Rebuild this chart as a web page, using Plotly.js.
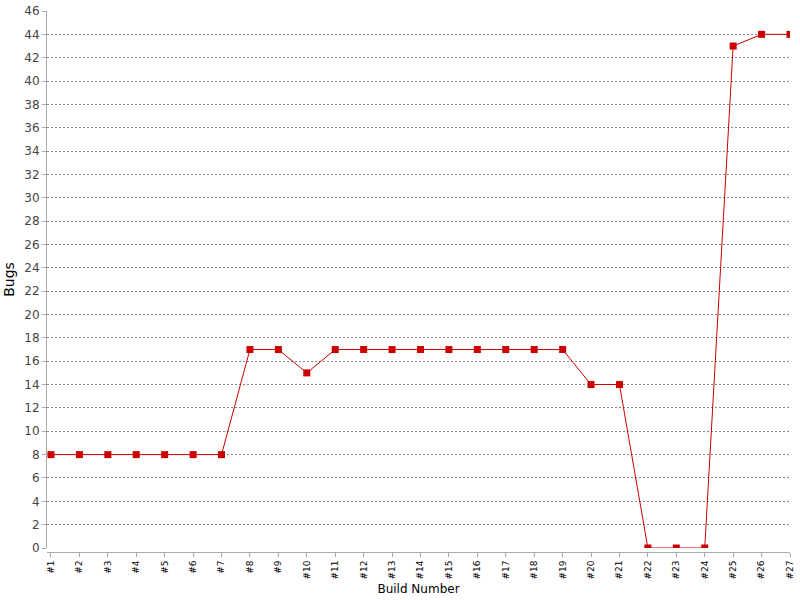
<!DOCTYPE html>
<html><head><meta charset="utf-8">
<script src="https://cdn.plot.ly/plotly-3.0.1.min.js"></script>
<style>html,body{margin:0;padding:0;background:#fff}</style>
</head><body><div id="chart" style="width:800px;height:600px"></div>
<script>
var builds = ["#1","#2","#3","#4","#5","#6","#7","#8","#9","#10","#11","#12","#13","#14","#15","#16","#17","#18","#19","#20","#21","#22","#23","#24","#25","#26","#27"];
var bugs = [8,8,8,8,8,8,8,17,17,15,17,17,17,17,17,17,17,17,17,14,14,0,0,0,43,44,44];
var yTicks = [0,2,4,6,8,10,12,14,16,18,20,22,24,26,28,30,32,34,36,38,40,42,44,46];

var trace = {
  x: builds, y: bugs, type: 'scatter', mode: 'lines+markers',
  line: {color: '#cc0000', width: 1},
  marker: {color: '#cc0000', symbol: 'square', size: 7},
  cliponaxis: true, hoverinfo: 'none'
};
var layout = {
  width: 800, height: 600,
  margin: {l: 47, r: 10, t: 11, b: 48, pad: 0},
  paper_bgcolor: '#fff', plot_bgcolor: '#fff',
  font: {family: 'DejaVu Sans, sans-serif', color: '#444'},
  showlegend: false,
  xaxis: {
    type: 'category', range: [-0.14, 26], anchor: 'free', position: 0,
    showgrid: false, zeroline: false, showline: true, linecolor: '#aaaaaa', linewidth: 1,
    ticks: 'outside', ticklen: 4, tickcolor: '#aaaaaa',
    tickangle: -90, tickfont: {size: 9, color: '#000', family: 'DejaVu Sans, sans-serif'},
    title: {text: 'Build Number', font: {size: 12, color: '#000'}, standoff: 6}
  },
  yaxis: {
    domain: [0.0074, 1], range: [0, 46], tickvals: yTicks, ticktext: yTicks.map(String),
    showgrid: true, gridcolor: '#888888', griddash: '2px,2px', gridwidth: 1,
    zeroline: false, showline: true, linecolor: '#aaaaaa', linewidth: 1,
    ticks: 'outside', ticklen: 4, tickcolor: '#aaaaaa',
    tickfont: {size: 12, color: '#444'},
    title: {text: 'Bugs', font: {size: 14, color: '#000'}, standoff: 6}
  }
};
Plotly.newPlot('chart', [trace], layout, {staticPlot: true});
</script></body></html>
